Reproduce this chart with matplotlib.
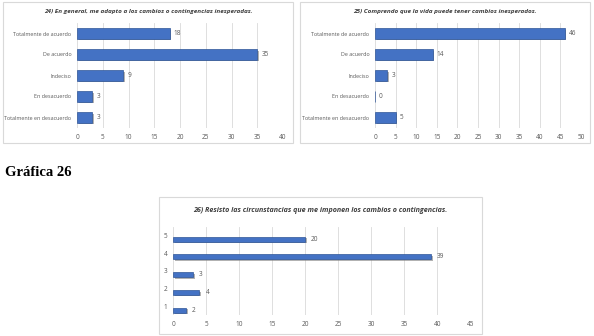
import matplotlib
matplotlib.use("Agg")
import matplotlib.pyplot as plt
import matplotlib.patheffects as pe
from matplotlib.patches import Rectangle

# Datos de las tres gráficas
cats_likert = ["Totalmente de acuerdo", "De acuerdo", "Indeciso",
               "En desacuerdo", "Totalmente en desacuerdo"]
vals_24 = [18, 35, 9, 3, 3]
vals_25 = [46, 14, 3, 0, 5]
cats_26 = ["5", "4", "3", "2", "1"]
vals_26 = [20, 39, 3, 4, 2]

title_24 = "24) En general, me adapto a los cambios o contingencias inesperadas."
title_25 = "25) Comprendo que la vida puede tener cambios inesperados."
title_26 = "26) Resisto las circunstancias que me imponen los cambios o contingencias."

BAR = "#4472C4"
EDGE = "#2F5597"
GRID = "#D9D9D9"
TXT = "#595959"
FONT = ["Liberation Sans Narrow", "Open Sans", "DejaVu Sans"]

W, H = 594, 336
fig = plt.figure(figsize=(W / 100, H / 100), dpi=100)


def px(x0, y0, x1, y1):
    # caja en pixeles (origen arriba a la izquierda) -> fracciones de figura
    return [x0 / W, 1 - y1 / H, (x1 - x0) / W, (y1 - y0) / H]


def panel(x0, y0, x1, y1):
    fig.patches.append(Rectangle((x0 / W, 1 - y1 / H), (x1 - x0) / W, (y1 - y0) / H,
                                 transform=fig.transFigure, fill=False,
                                 edgecolor=GRID, linewidth=0.8))


def bar_chart(box, cats, vals, xmax, title, title_xy, title_size, height, offset, lab_size):
    ax = fig.add_axes(px(*box))
    pos = list(range(len(cats)))
    bars = ax.barh([p + offset for p in pos], vals, height=height, color=BAR,
                   edgecolor=EDGE, linewidth=0.5, zorder=3)
    for b in bars:
        b.set_path_effects([pe.SimplePatchShadow(offset=(1.2, -1.2), shadow_rgbFace="#7F7F7F",
                                                 alpha=0.6), pe.Normal()])
    for p, v in zip(pos, vals):
        ax.text(v + xmax * 0.02, p + offset, str(v), va="center", ha="left",
                fontsize=4.7, color=TXT, family=FONT)
    ax.set_xlim(0, xmax)
    ax.set_ylim(len(cats) - 0.5, -0.5)
    ax.set_xticks(range(0, xmax + 1, 5))
    ax.set_yticks(pos)
    ax.set_yticklabels(cats, fontsize=lab_size, color=TXT, family=FONT)
    for lab in ax.get_xticklabels():
        lab.set_fontsize(4.7)
        lab.set_color(TXT)
        lab.set_family(FONT)
    ax.tick_params(length=0, pad=4)
    ax.grid(axis="x", color=GRID, linewidth=0.6, zorder=0)
    for s in ax.spines.values():
        s.set_visible(False)
    fig.text(title_xy[0] / W, 1 - title_xy[1] / H, title, ha="center", va="center",
             fontsize=title_size, fontstyle="italic", fontweight="bold", color="#404040",
             family=FONT)
    return ax


panel(3, 2, 293, 143)
panel(300, 2, 590, 143)
panel(159, 197, 482, 334)

bar_chart((77, 23, 283, 128), cats_likert, vals_24, 40, title_24, (148, 11), 4.6, 0.5, 0, 3.9)
bar_chart((375, 23, 581, 128), cats_likert, vals_25, 50, title_25, (445, 11), 4.6, 0.5, 0, 3.9)
bar_chart((173, 226.5, 470.5, 315), cats_26, vals_26, 45, title_26, (320, 211), 5.1,
          0.28, 0.22, 4.7)

fig.text(5 / W, 1 - 172 / H, "Gráfica 26", ha="left", va="center", fontsize=10.5,
         fontweight="bold", family=["Liberation Serif", "DejaVu Serif"])

fig.savefig("out.png", dpi=100)
